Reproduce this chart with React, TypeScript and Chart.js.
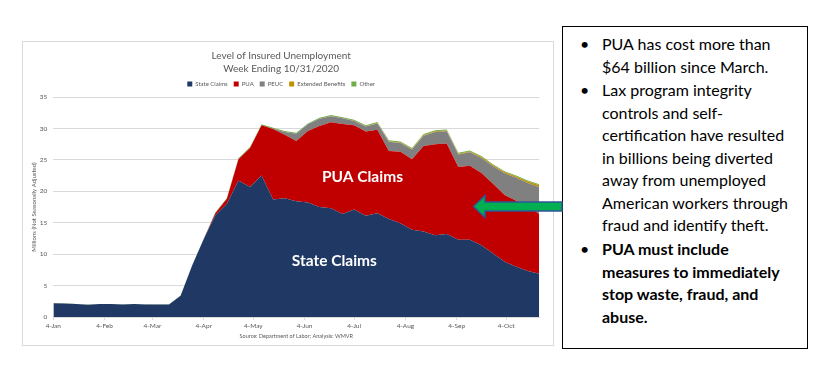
import React, { useEffect, useRef } from 'react';
import { Chart, registerables } from 'chart.js';

Chart.register(...registerables);

const FONT = "Lato, 'Open Sans', sans-serif";

const weekEnding = [
  '2020-01-04', '2020-01-11', '2020-01-18', '2020-01-25',
  '2020-02-01', '2020-02-08', '2020-02-15', '2020-02-22', '2020-02-29',
  '2020-03-07', '2020-03-14', '2020-03-21', '2020-03-28',
  '2020-04-04', '2020-04-11', '2020-04-18', '2020-04-25',
  '2020-05-02', '2020-05-09', '2020-05-16', '2020-05-23', '2020-05-30',
  '2020-06-06', '2020-06-13', '2020-06-20', '2020-06-27',
  '2020-07-04', '2020-07-11', '2020-07-18', '2020-07-25',
  '2020-08-01', '2020-08-08', '2020-08-15', '2020-08-22', '2020-08-29',
  '2020-09-05', '2020-09-12', '2020-09-19', '2020-09-26',
  '2020-10-03', '2020-10-10', '2020-10-17', '2020-10-24',
];

const stateClaims = [
  2.2, 2.15, 2.05, 1.95, 2.05, 2.05, 2.0, 2.05, 2.0, 2.0, 2.0,
  3.4, 8.2, 12.4, 16.2, 18.0, 21.7, 20.7, 22.5,
  18.7, 18.9, 18.4, 18.2, 17.5, 17.3, 16.4, 17.1, 16.1, 16.5,
  15.6, 14.9, 13.9, 13.6, 13.0, 13.2, 12.3, 12.3, 11.4, 10.1,
  8.8, 8.0, 7.3, 6.9,
];

const puaClaims = [
  0, 0, 0, 0, 0, 0, 0, 0, 0, 0, 0, 0, 0, 0,
  0.3, 0.8, 3.4, 6.2, 8.0, 11.2, 10.1, 9.6, 11.4, 12.9, 13.7, 14.3,
  13.4, 13.4, 13.3, 10.8, 11.4, 11.2, 13.6, 14.5, 14.4, 11.55, 11.75,
  11.5, 11.1, 10.6, 10.5, 10.3, 9.5,
];

const peucClaims = [
  0, 0, 0, 0, 0, 0, 0, 0, 0, 0, 0, 0, 0, 0, 0, 0, 0, 0, 0,
  0.05, 0.45, 1.15, 1.05, 1.15, 0.95, 0.9, 0.7, 0.8, 1.0,
  1.5, 1.4, 1.55, 1.65, 1.95, 1.95, 2.0, 2.15, 2.4, 2.8,
  3.45, 3.65, 3.7, 4.25,
];

const extendedBenefits = [
  0, 0, 0, 0, 0, 0, 0, 0, 0, 0, 0, 0, 0, 0, 0, 0, 0, 0, 0, 0, 0, 0, 0, 0,
  0.02, 0.03, 0.04, 0.05, 0.06, 0.07, 0.08, 0.09, 0.1, 0.1, 0.11,
  0.12, 0.13, 0.15, 0.17, 0.2, 0.22, 0.25, 0.3,
];

const otherClaims = [
  0.03, 0.03, 0.03, 0.03, 0.03, 0.03, 0.03, 0.03, 0.03, 0.03, 0.03, 0.03, 0.03, 0.03,
  0.12, 0.14, 0.15, 0.15, 0.15, 0.15, 0.15, 0.15, 0.15, 0.15, 0.15, 0.15,
  0.15, 0.15, 0.15, 0.15, 0.15, 0.15, 0.15, 0.15, 0.15, 0.15, 0.15,
  0.15, 0.15, 0.15, 0.15, 0.15, 0.15,
];

const seriesNames = ['State Claims', 'PUA', 'PEUC', 'Extended Benefits', 'Other'];
const seriesColors = ['#203864', '#C00000', '#808080', '#BF9000', '#70AD47'];

const tickDates = [
  '2020-01-04', '2020-02-04', '2020-03-04', '2020-04-04', '2020-05-04',
  '2020-06-04', '2020-07-04', '2020-08-04', '2020-09-04', '2020-10-04',
];
const tickLabels = ['4-Jan', '4-Feb', '4-Mar', '4-Apr', '4-May', '4-Jun', '4-Jul', '4-Aug', '4-Sep', '4-Oct'];

const titleLines = ['Level of Insured Unemployment', 'Week Ending 10/31/2020'];
const yAxisTitle = 'Millions (Not Seasonally Adjusted)';
const sourceNote = 'Source: Department of Labor; Analysis: WMVR';

// in-chart labels: [text, date, value]
const areaLabels: [string, string, number][] = [
  ['PUA Claims', '2020-07-09', 22.3],
  ['State Claims', '2020-06-22', 8.9],
];

const bullets = [
  { bold: false, lines: ['PUA has cost more than', '$64 billion since March.'] },
  {
    bold: false,
    lines: [
      'Lax program integrity',
      'controls and self-',
      'certification have resulted',
      'in billions being diverted',
      'away from unemployed',
      'American workers through',
      'fraud and identify theft.',
    ],
  },
  { bold: true, lines: ['PUA must include', 'measures to immediately', 'stop waste, fraud, and', 'abuse.'] },
];

const DAY = 86400000;
const dayOf = (d: string) => (Date.parse(d) - Date.parse(weekEnding[0])) / DAY;

const labelPlugin = {
  id: 'areaLabels',
  afterDatasetsDraw(chart: any) {
    const { ctx, scales } = chart;
    ctx.save();
    ctx.fillStyle = '#ffffff';
    ctx.font = `bold 15.5px ${FONT}`;
    ctx.textAlign = 'center';
    ctx.textBaseline = 'middle';
    areaLabels.forEach(([text, d, v]) => {
      ctx.fillText(text, scales.x.getPixelForValue(dayOf(d)), scales.y.getPixelForValue(v));
    });
    ctx.restore();
  },
};

function ChartBox() {
  const ref = useRef<HTMLCanvasElement | null>(null);
  useEffect(() => {
    if (!ref.current) return;
    const series = [stateClaims, puaClaims, peucClaims, extendedBenefits, otherClaims];
    const chart = new Chart(ref.current, {
      type: 'line',
      data: {
        datasets: series.map((vals, i) => ({
          label: seriesNames[i],
          data: vals.map((v, j) => ({ x: dayOf(weekEnding[j]), y: v })),
          backgroundColor: seriesColors[i],
          borderColor: seriesColors[i],
          borderWidth: 0,
          pointRadius: 0,
          pointHoverRadius: 0,
          tension: 0,
          fill: i === 0 ? 'origin' : '-1',
        })),
      },
      options: {
        animation: false,
        responsive: false,
        devicePixelRatio: 1,
        events: [],
        layout: { padding: { top: 0, right: 13.7, bottom: 0, left: 0 } },
        plugins: {
          title: {
            display: true,
            text: titleLines,
            color: '#595959',
            font: { family: FONT, size: 10, weight: 'normal', lineHeight: 1.3 },
            padding: { top: 7, bottom: 0 },
          },
          legend: {
            display: true,
            position: 'top',
            labels: {
              boxWidth: 5,
              boxHeight: 5,
              padding: 6,
              color: '#595959',
              font: { family: FONT, size: 6 },
            },
          },
          tooltip: { enabled: false },
        },
        scales: {
          x: {
            type: 'linear',
            min: 0,
            max: dayOf(weekEnding[weekEnding.length - 1]),
            afterBuildTicks: (scale: any) => {
              scale.ticks = tickDates.map((d) => ({ value: dayOf(d) }));
            },
            afterFit: (scale: any) => {
              scale.height = 28;
            },
            ticks: {
              autoSkip: false,
              maxRotation: 0,
              padding: 2,
              color: '#595959',
              font: { family: FONT, size: 6.5 },
              callback: (value: any) => {
                const idx = tickDates.findIndex((d) => dayOf(d) === value);
                return idx >= 0 ? tickLabels[idx] : '';
              },
            },
            grid: { drawOnChartArea: false, drawTicks: true, tickLength: 3, color: '#d9d9d9' },
            border: { display: true, color: '#d9d9d9' },
            title: {
              display: true,
              text: sourceNote,
              color: '#595959',
              font: { family: FONT, size: 5.5 },
              padding: { top: 0, bottom: 5.7 },
            },
          },
          y: {
            stacked: true,
            min: 0,
            max: 35,
            afterFit: (scale: any) => {
              scale.width = 30.3;
            },
            ticks: {
              stepSize: 5,
              padding: 6,
              color: '#595959',
              font: { family: FONT, size: 6.5 },
            },
            grid: { color: '#d9d9d9', drawTicks: false },
            border: { display: false },
            title: {
              display: true,
              text: yAxisTitle,
              color: '#595959',
              font: { family: FONT, size: 6 },
              padding: { top: 7.4, bottom: 0 },
            },
          },
        },
      },
      plugins: [labelPlugin],
    } as any);
    return () => chart.destroy();
  }, []);
  return <canvas ref={ref} width={530} height={303} style={{ display: 'block' }} />;
}

export default function App() {
  const bulletStarts = [44, 90, 249];
  const step = 22.5;
  return (
    <div
      style={{
        position: 'fixed',
        left: 0,
        top: 0,
        width: 836,
        height: 374,
        background: '#ffffff',
        overflow: 'hidden',
        fontFamily: FONT,
      }}
    >
      <div
        style={{
          position: 'absolute',
          left: 22,
          top: 41,
          width: 530,
          height: 303,
          border: '1px solid #d9d9d9',
        }}
      >
        <ChartBox />
      </div>

      <div
        style={{
          position: 'absolute',
          left: 562,
          top: 26,
          width: 244,
          height: 321,
          border: '1px solid #000000',
          background: '#ffffff',
        }}
      />
      {bullets.map((b, bi) => (
        <React.Fragment key={bi}>
          <div
            style={{
              position: 'absolute',
              left: 580,
              top: bulletStarts[bi] - 11,
              height: 22,
              lineHeight: '22px',
              fontSize: 16,
              color: '#000',
            }}
          >
            •
          </div>
          {b.lines.map((ln, li) => (
            <div
              key={li}
              style={{
                position: 'absolute',
                left: 602,
                top: bulletStarts[bi] + li * step - 11,
                height: 22,
                lineHeight: '22px',
                fontSize: 16,
                fontWeight: b.bold ? 700 : 400,
                color: '#000',
                whiteSpace: 'nowrap',
              }}
            >
              {ln}
            </div>
          ))}
        </React.Fragment>
      ))}

      <svg
        width={836}
        height={374}
        style={{ position: 'absolute', left: 0, top: 0, pointerEvents: 'none' }}
      >
        <polygon
          points="473.5,206.5 485,195.5 485,202 562,202 562,211 485,211 485,217.5"
          fill="#00B050"
          stroke="#2F5597"
          strokeWidth={1.5}
          strokeLinejoin="miter"
        />
      </svg>
    </div>
  );
}
